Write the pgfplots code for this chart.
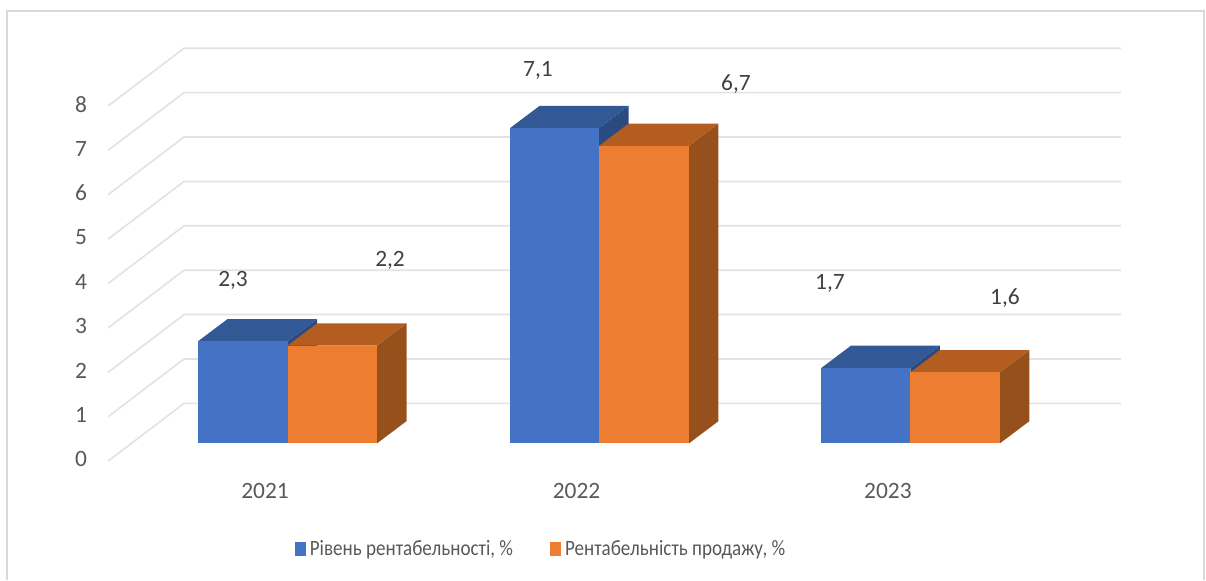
\documentclass[border=0pt]{standalone}
\usepackage{fontspec}
\setmainfont{Carlito}
\newfontfamily\legfont[FakeStretch=0.87]{Carlito}
\usepackage{pgfplots}
\pgfplotsset{compat=1.18}
\definecolor{blueF}{HTML}{4472C4}
\definecolor{blueT}{HTML}{335896}
\definecolor{blueS}{HTML}{2B4A80}
\definecolor{orF}{HTML}{ED7D31}
\definecolor{orT}{HTML}{B35E20}
\definecolor{orS}{HTML}{95501B}
\definecolor{gridc}{HTML}{E3E3E3}
\definecolor{framec}{HTML}{D9D9D9}
\definecolor{axtxt}{HTML}{595959}
\definecolor{lbltxt}{HTML}{404040}
\begin{document}
\begin{tikzpicture}
\begin{axis}[
  scale only axis, width=1206bp, height=580bp,
  xmin=0, xmax=1206, ymin=-3.0788, ymax=9.984,
  axis line style={draw=none}, major tick length=0pt, clip=false,
  ticklabel style={font=\fontsize{23.5}{28}\selectfont, text=axtxt},
  xtick={265,576.5,888}, xticklabels={2021,2022,2023},
  xticklabel style={anchor=center, yshift=89bp},
  ytick={-0.36,0.64,1.64,2.64,3.64,4.64,5.64,6.64,7.64},
  yticklabels={0,1,2,3,4,5,6,7,8},
  yticklabel style={anchor=center, xshift=81bp},
  legend columns=2,
  legend style={at={(rel axis cs:0.4486,0.0534)}, anchor=center, draw=none, fill=none,
    inner sep=0pt, font=\legfont\fontsize{22}{26}\selectfont, text=axtxt,
    /tikz/every even column/.style={column sep=35bp}},
  legend image code/.code={\fill[#1] (0bp,-7bp) rectangle (11bp,7bp); \path (13bp,0bp);},
]
% frame
\addplot[forget plot, framec, line width=1.8bp] coordinates {(7,-3.0788)(7,9.736)(1204,9.736)(1204,-3.0788)};
% grid
\addplot[forget plot, gridc, line width=1.7bp] coordinates {(108,-0.4)(184,0.9)(1121,0.9)};
\addplot[forget plot, gridc, line width=1.7bp] coordinates {(108,0.6)(184,1.9)(1121,1.9)};
\addplot[forget plot, gridc, line width=1.7bp] coordinates {(108,1.6)(184,2.9)(1121,2.9)};
\addplot[forget plot, gridc, line width=1.7bp] coordinates {(108,2.6)(184,3.9)(1121,3.9)};
\addplot[forget plot, gridc, line width=1.7bp] coordinates {(108,3.6)(184,4.9)(1121,4.9)};
\addplot[forget plot, gridc, line width=1.7bp] coordinates {(108,4.6)(184,5.9)(1121,5.9)};
\addplot[forget plot, gridc, line width=1.7bp] coordinates {(108,5.6)(184,6.9)(1121,6.9)};
\addplot[forget plot, gridc, line width=1.7bp] coordinates {(108,6.6)(184,7.9)(1121,7.9)};
\addplot[forget plot, gridc, line width=1.7bp] coordinates {(108,7.6)(184,8.9)(1121,8.9)};
% 2021 blue 2.3
\addplot[forget plot, fill=blueS, draw=none] coordinates {(287.5,0)(317,0.5)(317,2.8)(287.5,2.3)} -- cycle;
\addplot[forget plot, fill=blueT, draw=none] coordinates {(198,2.3)(287.5,2.3)(317,2.8)(227.5,2.8)} -- cycle;
\addplot[forget plot, fill=blueF, draw=none] coordinates {(198,0)(287.5,0)(287.5,2.3)(198,2.3)} -- cycle;
% 2021 orange 2.2
\addplot[forget plot, fill=orS, draw=none] coordinates {(377,0)(406.5,0.5)(406.5,2.7)(377,2.2)} -- cycle;
\addplot[forget plot, fill=orT, draw=none] coordinates {(287.5,2.2)(377,2.2)(406.5,2.7)(317,2.7)} -- cycle;
\addplot[forget plot, fill=orF, draw=none] coordinates {(287.5,0)(377,0)(377,2.2)(287.5,2.2)} -- cycle;
% 2022 blue 7.1
\addplot[forget plot, fill=blueS, draw=none] coordinates {(599,0)(628.5,0.5)(628.5,7.6)(599,7.1)} -- cycle;
\addplot[forget plot, fill=blueT, draw=none] coordinates {(510,7.1)(599,7.1)(628.5,7.6)(539.5,7.6)} -- cycle;
\addplot[forget plot, fill=blueF, draw=none] coordinates {(510,0)(599,0)(599,7.1)(510,7.1)} -- cycle;
% 2022 orange 6.7
\addplot[forget plot, fill=orS, draw=none] coordinates {(689,0)(718.5,0.5)(718.5,7.2)(689,6.7)} -- cycle;
\addplot[forget plot, fill=orT, draw=none] coordinates {(599,6.7)(689,6.7)(718.5,7.2)(628.5,7.2)} -- cycle;
\addplot[forget plot, fill=orF, draw=none] coordinates {(599,0)(689,0)(689,6.7)(599,6.7)} -- cycle;
% 2023 blue 1.7
\addplot[forget plot, fill=blueS, draw=none] coordinates {(910.5,0)(940,0.5)(940,2.2)(910.5,1.7)} -- cycle;
\addplot[forget plot, fill=blueT, draw=none] coordinates {(821.5,1.7)(910.5,1.7)(940,2.2)(851,2.2)} -- cycle;
\addplot[forget plot, fill=blueF, draw=none] coordinates {(821.5,0)(910.5,0)(910.5,1.7)(821.5,1.7)} -- cycle;
% 2023 orange 1.6
\addplot[forget plot, fill=orS, draw=none] coordinates {(1000,0)(1029.5,0.5)(1029.5,2.1)(1000,1.6)} -- cycle;
\addplot[forget plot, fill=orT, draw=none] coordinates {(910.5,1.6)(1000,1.6)(1029.5,2.1)(940,2.1)} -- cycle;
\addplot[forget plot, fill=orF, draw=none] coordinates {(910.5,0)(1000,0)(1000,1.6)(910.5,1.6)} -- cycle;
% labels
\node[text=lbltxt, font=\fontsize{23.5}{28}\selectfont] at (axis cs:233,3.68) {2,3};
\node[text=lbltxt, font=\fontsize{23.5}{28}\selectfont] at (axis cs:390,4.13) {2,2};
\node[text=lbltxt, font=\fontsize{23.5}{28}\selectfont] at (axis cs:538,8.41) {7,1};
\node[text=lbltxt, font=\fontsize{23.5}{28}\selectfont] at (axis cs:736,8.09) {6,7};
\node[text=lbltxt, font=\fontsize{23.5}{28}\selectfont] at (axis cs:830,3.61) {1,7};
\node[text=lbltxt, font=\fontsize{23.5}{28}\selectfont] at (axis cs:1005,3.27) {1,6};
\addlegendimage{fill=blueF, draw=none}
\addlegendentry{Рівень рентабельності, \%}
\addlegendimage{fill=orF, draw=none}
\addlegendentry{Рентабельність продажу, \%}
\end{axis}
\end{tikzpicture}
\end{document}
